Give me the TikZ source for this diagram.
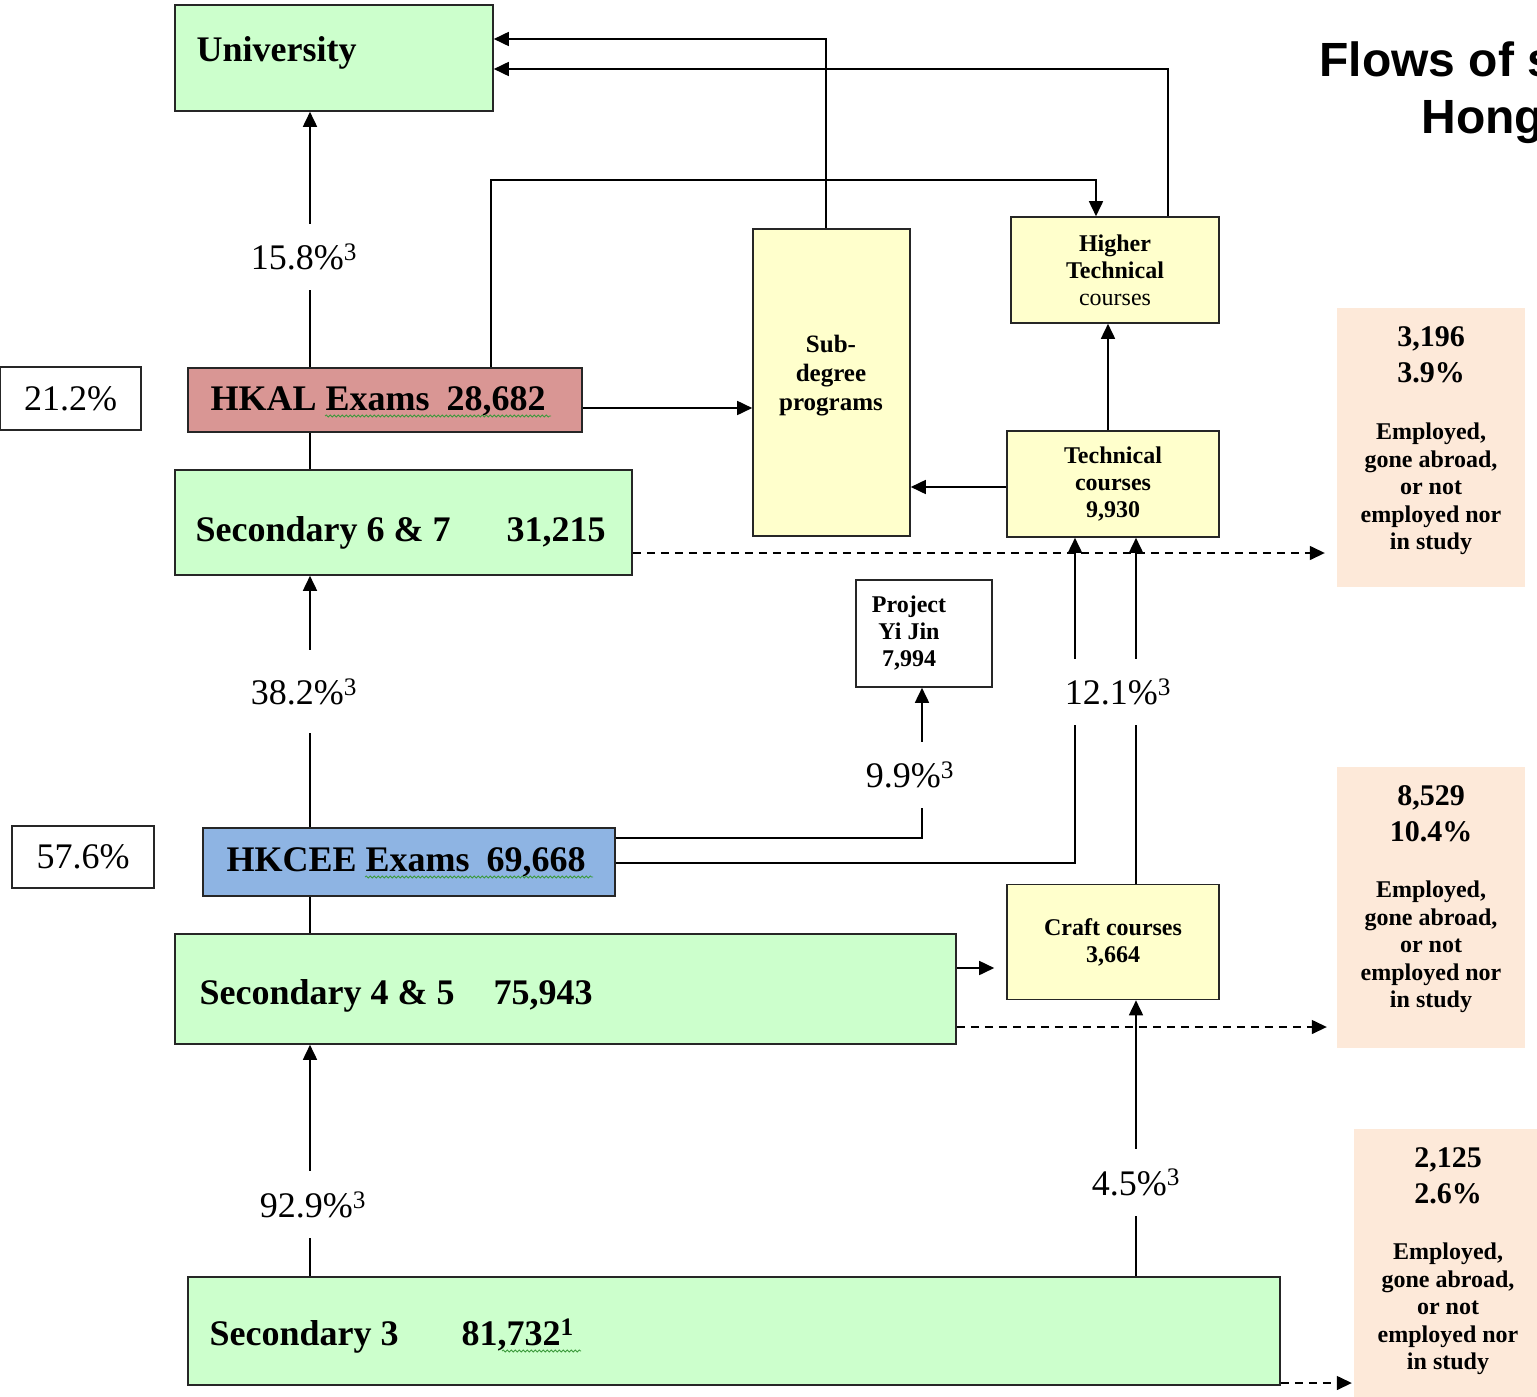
\documentclass[tikz,border=0pt]{standalone}
\usepackage{fontspec}
\setmainfont{Liberation Serif}
\newfontfamily\titlefont{Liberation Sans}
\usepackage{tikz}
\usetikzlibrary{arrows.meta, decorations.pathmorphing}
\usepackage{xcolor}
\definecolor{box-green}{HTML}{CCFFCC}
\definecolor{box-yellow}{HTML}{FFFFCC}
\definecolor{box-red}{HTML}{D99694}
\definecolor{box-blue}{HTML}{8EB4E3}
\definecolor{box-peach}{HTML}{FDE9D9}
\definecolor{spell-green}{HTML}{3C9A3C}
\newcommand{\fs}[2]{\fontsize{#1}{#2}\selectfont}

\begin{document}
\begin{tikzpicture}[x=1pt, y=-1pt, >={Triangle[length=15pt,width=14pt]},
	box/.style={draw=black!85, line width=1.6pt, inner sep=0pt},
	flow/.style={line width=1.7pt},
	outflow/.style={line width=1.4pt, dash pattern=on 8pt off 6pt},
	pct/.style={fill=white, inner xsep=3pt, inner ysep=20pt, font=\fs{36}{40}},
	big/.style={font=\fs{36}{40}\bfseries},
	small/.style={font=\fs{24}{27}\bfseries, align=center},
	numbers/.style={anchor=north, align=center, inner sep=0pt, font=\fs{30}{36}\bfseries},
	reasons/.style={anchor=north, align=center, inner sep=0pt, font=\fs{24}{27.5}\bfseries},
	squiggle/.style={spell-green, line width=0.8pt, decorate, decoration={snake, amplitude=1pt, segment length=4pt}}]
	\clip (0,0) rectangle (1537,1397);
	
	% title
	\node[anchor=base west, font=\titlefont\bfseries\fs{48}{56}] (title1) at (1316,77) {Flows of s};
	\node[anchor=base west, font=\titlefont\bfseries\fs{48}{56}] (title2) at (1418,133) {Hong};
	
	% boxes
	\node[box, fill=box-green, minimum width=318pt, minimum height=106pt] (univ) at (334,58) {};
	\node[anchor=base west, big] (univtxt) at (193,62) {University};
	\node[box, minimum width=141pt, minimum height=63pt, font=\fs{36}{40}] (alrate) at (70.5,398.5) {21.2\%};
	\node[box, fill=box-red, minimum width=394pt, minimum height=64pt] (hkal) at (385,400) {};
	\node[anchor=base west, big] (hkaltxt) at (207,410) {HKAL Exams\hspace{17pt}28,682};
	\node[box, fill=box-green, minimum width=457pt, minimum height=105pt] (sixseven) at (403.5,522.5) {};
	\node[anchor=base west, big] (sixseventxt) at (192,541) {Secondary 6 \& 7\hspace{56pt}31,215};
	\node[box, fill=box-yellow, minimum width=157pt, minimum height=307pt] (sub) at (831.5,382.5) {};
	\node[align=center, font=\fs{25}{29}\bfseries] (subtxt) at (831,376) {Sub-\\degree\\programs};
	\node[box, fill=box-yellow, minimum width=208pt, minimum height=106pt, small] (htech) at (1115,270) {Higher\\Technical\\{\mdseries courses}};
	\node[box, fill=box-yellow, minimum width=212pt, minimum height=106pt, small] (tech) at (1113,484) {Technical\\courses\\9,930};
	\node[box, minimum width=136pt, minimum height=107pt] (yijin) at (924,633.5) {};
	\node[small] (yijintxt) at (909,633) {Project\\Yi Jin\\7,994};
	\node[box, minimum width=142pt, minimum height=62pt, font=\fs{36}{40}] (cerate) at (83,857) {57.6\%};
	\node[box, fill=box-blue, minimum width=412pt, minimum height=68pt] (hkcee) at (409,862) {};
	\node[anchor=base west, big] (hkceetxt) at (223,871) {HKCEE Exams\hspace{17pt}69,668};
	\node[box, fill=box-green, minimum width=781pt, minimum height=110pt] (fourfive) at (565.5,989) {};
	\node[anchor=base west, big] (fourfivetxt) at (196,1004) {Secondary 4 \& 5\hspace{39pt}75,943};
	\node[box, fill=box-yellow, minimum width=212pt, minimum height=115pt, small] (craft) at (1113,942) {Craft courses\\3,664};
	\node[box, fill=box-green, minimum width=1092pt, minimum height=108pt] (three) at (734,1331) {};
	\node[anchor=base west, big] (threetxt) at (206,1345) {Secondary 3\hspace{63pt}81,732\textsuperscript{1}};
	
	% spell check marks
	\draw[squiggle] (325,416) -- (551,416);
	\draw[squiggle] (365,877) -- (593,877);
	\draw[squiggle] (502,1351) -- (581,1351);
	
	% leavers
	\node[fill=box-peach, minimum width=188pt, minimum height=279pt] (gone1) at (1431,447.5) {};
	\node[numbers] (gone1num) at (1431,326) {3,196\\3.9\%};
	\node[reasons] (gone1txt) at (1431,423) {Employed,\\gone abroad,\\or not\\employed nor\\in study};
	\node[fill=box-peach, minimum width=188pt, minimum height=281pt] (gone2) at (1431,907.5) {};
	\node[numbers] (gone2num) at (1431,785) {8,529\\10.4\%};
	\node[reasons] (gone2txt) at (1431,881) {Employed,\\gone abroad,\\or not\\employed nor\\in study};
	\node[fill=box-peach, minimum width=188pt, minimum height=279pt] (gone3) at (1448,1268.5) {};
	\node[numbers] (gone3num) at (1448,1147) {2,125\\2.6\%};
	\node[reasons] (gone3txt) at (1448,1243) {Employed,\\gone abroad,\\or not\\employed nor\\in study};
	
	% flows
	\coordinate (spine) at (310,0);
	\draw[flow, ->] (hkal.north -| spine) -- node[pct, pos=0.43, xshift=-6pt] (p158) {15.8\%\textsuperscript{3}} (univ.south -| spine);
	\draw[flow] (sixseven.north -| spine) -- (hkal.south -| spine);
	\draw[flow, ->] (hkcee.north -| spine) -- node[pct, pos=0.54, xshift=-6pt, inner ysep=28pt] (p382) {38.2\%\textsuperscript{3}} (sixseven.south -| spine);
	\draw[flow] (fourfive.north -| spine) -- (hkcee.south -| spine);
	\draw[flow, ->] (three.north -| spine) -- node[pct, pos=0.31, xshift=3pt] (p929) {92.9\%\textsuperscript{3}} (fourfive.south -| spine);
	
	\draw[flow, ->] (sub.north -| 826,0) |- ([yshift=19pt]univ.east);
	\draw[flow, ->] (htech.north -| 1168,0) |- ([yshift=-11pt]univ.east);
	\draw[flow, ->] (hkal.north -| 491,0) |- (1096,180) -- (htech.north -| 1096,0);
	\draw[flow, ->] (hkal.east |- 0,408) -- (sub.west |- 0,408);
	\draw[flow, ->] (tech.west |- 0,487) -- (sub.east |- 0,487);
	\draw[flow, ->] (tech.north -| 1108,0) -- (htech.south -| 1108,0);
	
	\draw[flow, ->] (hkcee.east |- 0,838) -| node[pct, pos=0.71, xshift=-12pt] (p99) {9.9\%\textsuperscript{3}} (yijin.south -| 922,0);
	\draw[flow, ->] (hkcee.east |- 0,863) -| (tech.south -| 1075,0);
	\draw[flow, ->] (craft.north -| 1136,0) -- (tech.south -| 1136,0);
	\node[pct] (p121) at (1118,692) {12.1\%\textsuperscript{3}};
	\draw[flow, ->, shorten >=12pt] (fourfive.east |- 0,968) -- (craft.west |- 0,968);
	\draw[flow, ->] (three.north -| 1136,0) -- node[pct, pos=0.34] (p45) {4.5\%\textsuperscript{3}} (craft.south -| 1136,0);
	
	\draw[outflow, ->, shorten >=12pt] (sixseven.east |- 0,553) -- (gone1.west |- 0,553);
	\draw[outflow, ->, shorten >=10pt] (fourfive.east |- 0,1027) -- (gone2.west |- 0,1027);
	\draw[outflow, ->, shorten >=2pt] (three.east |- 0,1383) -- (gone3.west |- 0,1383);
\end{tikzpicture}
\end{document}
